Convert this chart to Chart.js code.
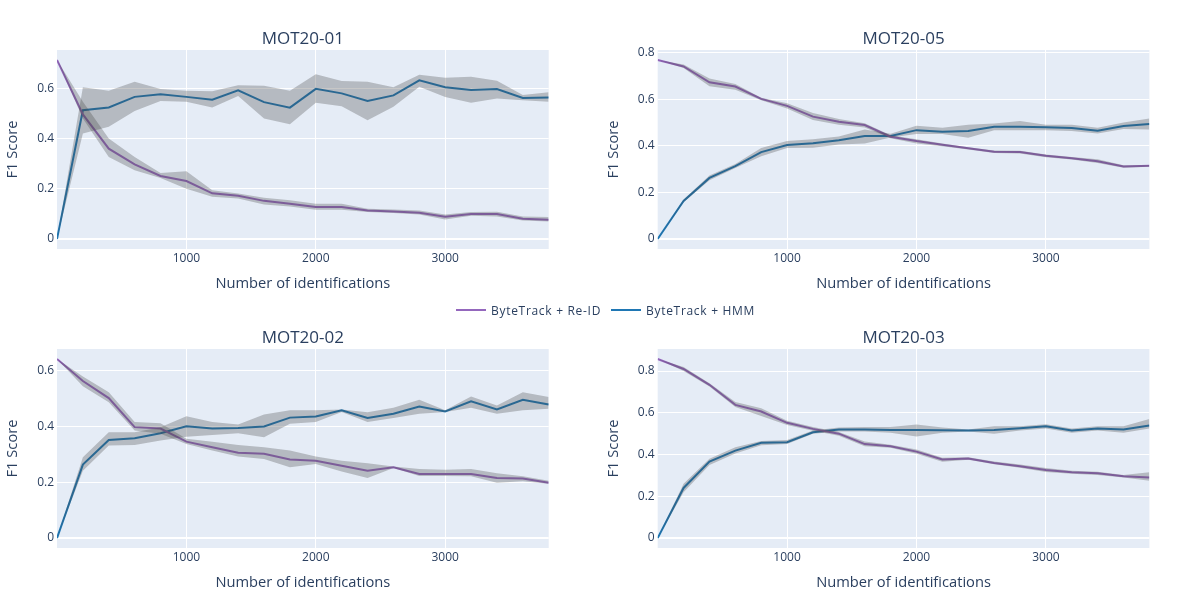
<!DOCTYPE html>
<html><head><meta charset="utf-8">
<script src="https://cdn.jsdelivr.net/npm/chart.js"></script>
<style>
html,body{margin:0;padding:0;background:#fff;width:1200px;height:600px;overflow:hidden;font-family:"Open Sans",sans-serif;}
.box{position:absolute;}
.leg{position:absolute;top:301px;height:18px;display:flex;align-items:center;font-size:12px;letter-spacing:0.7px;color:#2a3f5f;font-family:"Open Sans",sans-serif;white-space:nowrap;}
.leg i{display:inline-block;width:30px;height:2px;margin-right:5px;}
</style></head><body>
<div class="box" style="left:0;top:15px;width:560px;height:285px"><canvas id="c1" width="560" height="285"></canvas></div>
<div class="box" style="left:601px;top:15px;width:560px;height:285px"><canvas id="c2" width="560" height="285"></canvas></div>
<div class="box" style="left:0;top:314px;width:560px;height:285px"><canvas id="c3" width="560" height="285"></canvas></div>
<div class="box" style="left:601px;top:314px;width:560px;height:285px"><canvas id="c4" width="560" height="285"></canvas></div>
<div class="leg" style="left:456px"><i style="background:#9467bd"></i>ByteTrack + Re-ID</div>
<div class="leg" style="left:611px"><i style="background:#1f77b4"></i>ByteTrack + HMM</div>
<script>
// ---- data ----
const xValues = [0,200,400,600,800,1000,1200,1400,1600,1800,2000,2200,2400,2600,2800,3000,3200,3400,3600,3800];
const xTicks = [1000,2000,3000];
const seriesNames = ["ByteTrack + Re-ID","ByteTrack + HMM"];
const titles = ["MOT20-01","MOT20-05","MOT20-02","MOT20-03"];

// MOT20-01
const mot01ReidMean = [0.713,0.496,0.360,0.297,0.251,0.231,0.182,0.172,0.152,0.141,0.128,0.128,0.114,0.110,0.105,0.089,0.100,0.100,0.081,0.077];
const mot01ReidUpper = [0.713,0.547,0.400,0.327,0.263,0.270,0.194,0.181,0.164,0.154,0.141,0.141,0.121,0.118,0.114,0.098,0.108,0.109,0.090,0.088];
const mot01ReidLower = [0.713,0.480,0.327,0.274,0.243,0.200,0.168,0.161,0.138,0.130,0.117,0.117,0.108,0.104,0.098,0.078,0.093,0.090,0.074,0.070];
const mot01HmmMean = [0,0.513,0.524,0.566,0.576,0.566,0.555,0.592,0.545,0.523,0.598,0.580,0.550,0.572,0.632,0.604,0.593,0.597,0.562,0.564];
const mot01HmmUpper = [0,0.604,0.590,0.626,0.597,0.590,0.588,0.612,0.610,0.590,0.656,0.629,0.626,0.604,0.654,0.642,0.646,0.630,0.573,0.584];
const mot01HmmLower = [0,0.420,0.447,0.510,0.550,0.547,0.524,0.569,0.480,0.457,0.543,0.529,0.473,0.527,0.606,0.566,0.543,0.560,0.553,0.547];
const mot01YTicks = [0,0.2,0.4,0.6];

// MOT20-05
const mot05ReidMean = [0.768,0.740,0.672,0.654,0.601,0.571,0.525,0.503,0.489,0.439,0.420,0.404,0.389,0.374,0.373,0.357,0.346,0.334,0.311,0.314];
const mot05ReidUpper = [0.768,0.748,0.688,0.665,0.606,0.582,0.540,0.515,0.497,0.445,0.428,0.410,0.394,0.380,0.379,0.363,0.352,0.342,0.316,0.318];
const mot05ReidLower = [0.768,0.733,0.655,0.640,0.595,0.560,0.510,0.490,0.478,0.432,0.410,0.398,0.384,0.369,0.367,0.351,0.341,0.326,0.306,0.310];
const mot05HmmMean = [0,0.163,0.262,0.313,0.373,0.403,0.411,0.424,0.442,0.442,0.467,0.460,0.463,0.482,0.482,0.479,0.476,0.464,0.485,0.493];
const mot05HmmUpper = [0,0.170,0.272,0.322,0.390,0.420,0.428,0.440,0.470,0.452,0.486,0.477,0.490,0.495,0.506,0.490,0.490,0.477,0.500,0.517];
const mot05HmmLower = [0,0.158,0.252,0.305,0.355,0.390,0.392,0.405,0.410,0.435,0.450,0.450,0.434,0.467,0.467,0.467,0.463,0.453,0.472,0.470];
const mot05YTicks = [0,0.2,0.4,0.6,0.8];

// MOT20-02
const mot02ReidMean = [0.641,0.562,0.501,0.397,0.392,0.345,0.325,0.305,0.302,0.281,0.277,0.259,0.241,0.253,0.229,0.229,0.229,0.215,0.213,0.198];
const mot02ReidUpper = [0.641,0.578,0.522,0.415,0.411,0.355,0.345,0.333,0.325,0.313,0.292,0.277,0.268,0.256,0.247,0.244,0.247,0.232,0.221,0.205];
const mot02ReidLower = [0.641,0.543,0.486,0.385,0.373,0.337,0.313,0.292,0.283,0.253,0.265,0.238,0.215,0.251,0.222,0.222,0.221,0.198,0.203,0.194];
const mot02HmmMean = [0,0.263,0.351,0.357,0.375,0.400,0.392,0.394,0.399,0.431,0.435,0.457,0.430,0.445,0.471,0.453,0.489,0.460,0.495,0.478];
const mot02HmmUpper = [0,0.289,0.379,0.379,0.397,0.436,0.415,0.406,0.442,0.457,0.457,0.460,0.450,0.466,0.495,0.457,0.507,0.474,0.522,0.505];
const mot02HmmLower = [0,0.241,0.331,0.333,0.349,0.363,0.369,0.375,0.361,0.409,0.415,0.451,0.415,0.430,0.445,0.451,0.466,0.445,0.457,0.463];
const mot02YTicks = [0,0.2,0.4,0.6];

// MOT20-03
const mot03ReidMean = [0.858,0.810,0.734,0.638,0.606,0.552,0.523,0.500,0.450,0.440,0.414,0.376,0.381,0.360,0.344,0.326,0.315,0.310,0.296,0.290];
const mot03ReidUpper = [0.858,0.820,0.742,0.652,0.622,0.562,0.532,0.508,0.462,0.447,0.424,0.385,0.387,0.367,0.352,0.336,0.322,0.318,0.302,0.315];
const mot03ReidLower = [0.858,0.800,0.726,0.628,0.585,0.542,0.514,0.490,0.440,0.433,0.404,0.366,0.375,0.353,0.337,0.316,0.308,0.302,0.290,0.275];
const mot03HmmMean = [0,0.240,0.366,0.419,0.456,0.459,0.507,0.520,0.520,0.518,0.518,0.517,0.515,0.518,0.526,0.536,0.515,0.525,0.520,0.539];
const mot03HmmUpper = [0,0.260,0.380,0.435,0.465,0.470,0.515,0.530,0.532,0.532,0.544,0.530,0.520,0.535,0.535,0.545,0.525,0.535,0.535,0.570];
const mot03HmmLower = [0,0.220,0.350,0.405,0.445,0.450,0.500,0.510,0.510,0.505,0.486,0.505,0.510,0.500,0.515,0.525,0.505,0.515,0.505,0.525];
const mot03YTicks = [0,0.2,0.4,0.6,0.8];

// ---- styling ----
const FONT = '"Open Sans", sans-serif';
const TXT = '#2a3f5f';
const REID_COLOR = '#9467bd';
const HMM_COLOR = '#1f77b4';
const BAND = 'rgba(68,68,68,0.3)';

const plotBg = {
  id: 'plotBg',
  beforeDraw(chart) {
    const {ctx, chartArea: a} = chart;
    ctx.save();
    ctx.fillStyle = '#E5ECF6';
    ctx.fillRect(a.left, a.top, a.right - a.left, a.bottom - a.top);
    ctx.restore();
  }
};

function pts(arr) { return arr.map((v, i) => ({x: xValues[i], y: v})); }

function makeChart(id, title, rm, ru, rl, hm, hu, hl, yTicks, yWidth) {
  const all = [].concat(rm, ru, rl, hm, hu, hl);
  const mn = Math.min(...all), mx = Math.max(...all);
  const pad = (mx - mn) / 18;
  const band = (d, fill) => ({data: pts(d), borderWidth: 0, pointRadius: 0, backgroundColor: BAND, fill: fill, order: 0});
  const line = (d, c, name) => ({label: name, data: pts(d), borderColor: c, borderWidth: 2, pointRadius: 0, fill: false, tension: 0, order: 1});
  new Chart(document.getElementById(id), {
    type: 'line',
    data: {
      datasets: [
        band(ru, '+1'), band(rl, false),
        band(hu, '+1'), band(hl, false),
        line(rm, REID_COLOR, seriesNames[0]),
        line(hm, HMM_COLOR, seriesNames[1])
      ]
    },
    options: {
      responsive: false,
      animation: false,
      events: [],
      layout: {padding: {left: 0, right: 560 - yWidth - 491.7, top: 0, bottom: 0}},
      plugins: {
        legend: {display: false},
        tooltip: {enabled: false},
        title: {display: true, text: title, fullSize: false, color: TXT,
                font: {family: FONT, size: 17, weight: 'normal', lineHeight: 1},
                padding: {top: 16, bottom: 2}}
      },
      scales: {
        x: {
          type: 'linear', min: xValues[0], max: xValues[xValues.length - 1],
          afterFit: s => { s.height = 51; },
          afterBuildTicks: s => { s.ticks = xTicks.map(v => ({value: v})); },
          ticks: {color: TXT, font: {family: FONT, size: 12}, padding: 2, maxRotation: 0, autoSkip: false, callback: v => String(v)},
          grid: {color: '#ffffff', lineWidth: 1, drawTicks: false},
          border: {display: false},
          title: {display: true, text: 'Number of identifications', color: TXT, font: {family: FONT, size: 14.7, lineHeight: 1.2}, padding: {top: 0, bottom: 7}}
        },
        y: {
          type: 'linear', min: mn - pad, max: mx + pad,
          afterFit: s => { s.width = yWidth; },
          afterBuildTicks: s => { s.ticks = yTicks.map(v => ({value: v})); },
          ticks: {color: TXT, font: {family: FONT, size: 12}, padding: 3, autoSkip: false, callback: v => String(v)},
          grid: {color: '#ffffff', lineWidth: c => (c.tick && c.tick.value === 0) ? 2 : 1, drawTicks: false},
          border: {display: false},
          title: {display: true, text: 'F1 Score', color: TXT, font: {family: FONT, size: 14.7, lineHeight: 1.2}, padding: {top: 4, bottom: 0}}
        }
      }
    },
    plugins: [plotBg]
  });
}

makeChart('c1', titles[0], mot01ReidMean, mot01ReidUpper, mot01ReidLower, mot01HmmMean, mot01HmmUpper, mot01HmmLower, mot01YTicks, 57);
makeChart('c2', titles[1], mot05ReidMean, mot05ReidUpper, mot05ReidLower, mot05HmmMean, mot05HmmUpper, mot05HmmLower, mot05YTicks, 56.7);
makeChart('c3', titles[2], mot02ReidMean, mot02ReidUpper, mot02ReidLower, mot02HmmMean, mot02HmmUpper, mot02HmmLower, mot02YTicks, 57);
makeChart('c4', titles[3], mot03ReidMean, mot03ReidUpper, mot03ReidLower, mot03HmmMean, mot03HmmUpper, mot03HmmLower, mot03YTicks, 56.7);
</script>
</body></html>
